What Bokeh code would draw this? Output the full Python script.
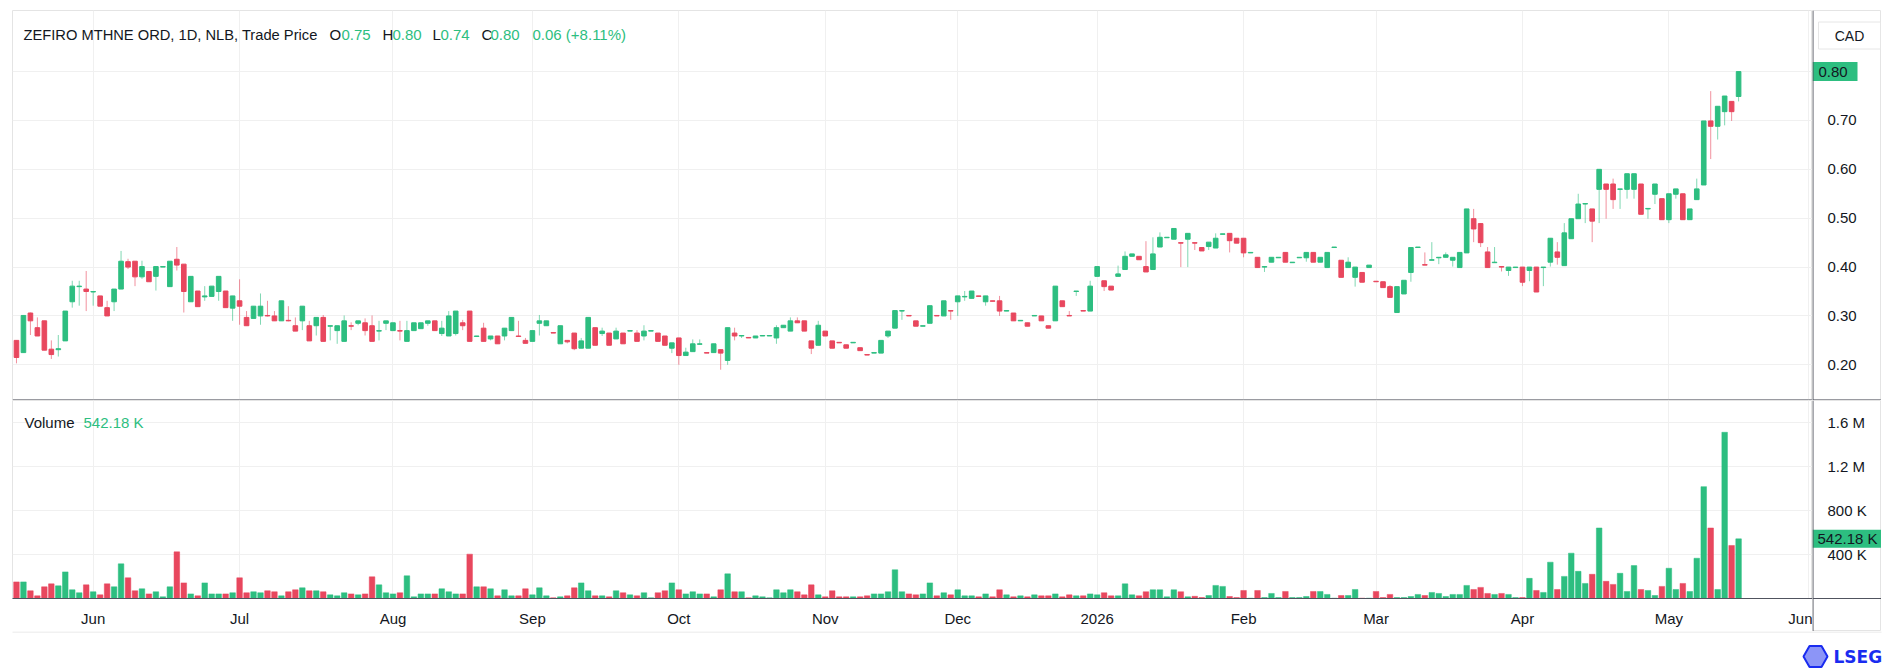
from bokeh.plotting import figure
from bokeh.layouts import column, row
from bokeh.models import ColumnDataSource, FixedTicker, Grid, Label, Range1d, Span
from bokeh.core.properties import value
from bokeh.embed import file_html
from bokeh.resources import INLINE

# ---------------- data ----------------
opens = [0.250, 0.225, 0.306, 0.276, 0.290, 0.232, 0.231, 0.249, 0.329, 0.360,
         0.355, 0.349, 0.341, 0.317, 0.329, 0.355, 0.411, 0.412, 0.380, 0.391,
         0.381, 0.400, 0.360, 0.416, 0.406, 0.329, 0.351, 0.339, 0.340, 0.350,
         0.351, 0.316, 0.331, 0.297, 0.295, 0.300, 0.301, 0.300, 0.290, 0.291,
         0.280, 0.290, 0.280, 0.280, 0.297, 0.279, 0.270, 0.248, 0.280, 0.285,
         0.286, 0.280, 0.269, 0.285, 0.270, 0.270, 0.248, 0.270, 0.274, 0.285,
         0.290, 0.264, 0.259, 0.264, 0.286, 0.310, 0.258, 0.275, 0.253, 0.259,
         0.259, 0.270, 0.259, 0.250, 0.248, 0.285, 0.280, 0.266, 0.243, 0.250,
         0.265, 0.234, 0.234, 0.276, 0.264, 0.265, 0.253, 0.265, 0.269, 0.265,
         0.259, 0.269, 0.265, 0.259, 0.234, 0.255, 0.219, 0.227, 0.242, 0.225,
         0.225, 0.231, 0.209, 0.265, 0.259, 0.256, 0.255, 0.259, 0.259, 0.255,
         0.276, 0.269, 0.290, 0.290, 0.249, 0.240, 0.269, 0.249, 0.246, 0.241,
         0.245, 0.235, 0.221, 0.224, 0.224, 0.259, 0.275, 0.310, 0.301, 0.290,
         0.279, 0.285, 0.301, 0.300, 0.311, 0.329, 0.339, 0.336, 0.341, 0.329,
         0.331, 0.331, 0.310, 0.306, 0.290, 0.286, 0.300, 0.300, 0.280, 0.290,
         0.331, 0.301, 0.350, 0.311, 0.310, 0.381, 0.372, 0.361, 0.381, 0.395,
         0.422, 0.422, 0.401, 0.395, 0.441, 0.460, 0.457, 0.450, 0.457, 0.450,
         0.440, 0.442, 0.439, 0.467, 0.469, 0.459, 0.459, 0.429, 0.420, 0.400,
         0.410, 0.419, 0.430, 0.409, 0.419, 0.419, 0.430, 0.410, 0.399, 0.440,
         0.414, 0.399, 0.379, 0.389, 0.399, 0.371, 0.370, 0.360, 0.307, 0.345,
         0.389, 0.440, 0.405, 0.414, 0.419, 0.420, 0.414, 0.399, 0.429, 0.499,
         0.489, 0.431, 0.409, 0.401, 0.393, 0.399, 0.400, 0.393, 0.400, 0.399,
         0.410, 0.431, 0.403, 0.458, 0.499, 0.529, 0.519, 0.559, 0.570, 0.570,
         0.559, 0.559, 0.559, 0.570, 0.519, 0.549, 0.540, 0.497, 0.549, 0.550,
         0.497, 0.538, 0.568, 0.699, 0.688, 0.718, 0.739, 0.749]

highs = [0.250, 0.301, 0.307, 0.297, 0.290, 0.250, 0.261, 0.310, 0.372, 0.372,
         0.392, 0.351, 0.341, 0.331, 0.355, 0.433, 0.417, 0.412, 0.413, 0.391,
         0.401, 0.401, 0.412, 0.441, 0.406, 0.381, 0.351, 0.361, 0.361, 0.381,
         0.351, 0.341, 0.375, 0.310, 0.320, 0.346, 0.331, 0.310, 0.331, 0.320,
         0.297, 0.320, 0.290, 0.297, 0.302, 0.280, 0.280, 0.301, 0.287, 0.290,
         0.295, 0.301, 0.290, 0.290, 0.286, 0.290, 0.290, 0.286, 0.286, 0.290,
         0.290, 0.290, 0.310, 0.310, 0.292, 0.310, 0.259, 0.286, 0.259, 0.259,
         0.275, 0.297, 0.290, 0.255, 0.270, 0.302, 0.290, 0.266, 0.280, 0.250,
         0.265, 0.255, 0.297, 0.276, 0.276, 0.265, 0.276, 0.265, 0.270, 0.271,
         0.281, 0.270, 0.265, 0.259, 0.245, 0.255, 0.235, 0.252, 0.252, 0.225,
         0.243, 0.231, 0.276, 0.276, 0.260, 0.256, 0.259, 0.260, 0.260, 0.281,
         0.281, 0.297, 0.297, 0.290, 0.249, 0.290, 0.269, 0.249, 0.246, 0.241,
         0.246, 0.235, 0.221, 0.225, 0.250, 0.269, 0.311, 0.311, 0.301, 0.290,
         0.280, 0.321, 0.301, 0.331, 0.311, 0.341, 0.351, 0.351, 0.341, 0.341,
         0.331, 0.341, 0.311, 0.306, 0.291, 0.286, 0.301, 0.300, 0.280, 0.361,
         0.331, 0.310, 0.351, 0.311, 0.372, 0.401, 0.372, 0.361, 0.403, 0.432,
         0.427, 0.422, 0.453, 0.461, 0.471, 0.461, 0.479, 0.450, 0.469, 0.450,
         0.440, 0.451, 0.469, 0.468, 0.469, 0.459, 0.459, 0.430, 0.420, 0.401,
         0.420, 0.420, 0.430, 0.410, 0.420, 0.430, 0.430, 0.420, 0.430, 0.441,
         0.414, 0.420, 0.400, 0.389, 0.404, 0.371, 0.370, 0.363, 0.360, 0.373,
         0.440, 0.441, 0.430, 0.451, 0.420, 0.430, 0.420, 0.430, 0.519, 0.519,
         0.489, 0.441, 0.441, 0.401, 0.400, 0.400, 0.400, 0.400, 0.400, 0.400,
         0.459, 0.451, 0.490, 0.499, 0.550, 0.530, 0.519, 0.600, 0.570, 0.581,
         0.560, 0.591, 0.591, 0.570, 0.520, 0.570, 0.540, 0.550, 0.560, 0.550,
         0.519, 0.581, 0.699, 0.760, 0.729, 0.750, 0.739, 0.800]

lows = [0.203, 0.225, 0.261, 0.259, 0.230, 0.212, 0.217, 0.249, 0.317, 0.321,
        0.310, 0.321, 0.320, 0.300, 0.310, 0.355, 0.396, 0.361, 0.376, 0.370,
        0.352, 0.400, 0.360, 0.393, 0.307, 0.329, 0.319, 0.331, 0.340, 0.331,
        0.317, 0.290, 0.282, 0.280, 0.295, 0.282, 0.299, 0.290, 0.290, 0.289,
        0.269, 0.271, 0.249, 0.260, 0.248, 0.250, 0.243, 0.248, 0.271, 0.281,
        0.260, 0.248, 0.250, 0.271, 0.270, 0.250, 0.248, 0.270, 0.274, 0.280,
        0.270, 0.259, 0.259, 0.260, 0.271, 0.248, 0.258, 0.248, 0.250, 0.243,
        0.250, 0.270, 0.258, 0.244, 0.248, 0.260, 0.280, 0.265, 0.243, 0.244,
        0.230, 0.234, 0.234, 0.240, 0.259, 0.240, 0.253, 0.243, 0.269, 0.248,
        0.250, 0.269, 0.248, 0.240, 0.224, 0.200, 0.219, 0.227, 0.242, 0.224,
        0.225, 0.190, 0.200, 0.250, 0.255, 0.255, 0.255, 0.259, 0.259, 0.243,
        0.276, 0.269, 0.286, 0.269, 0.222, 0.240, 0.259, 0.234, 0.245, 0.234,
        0.245, 0.229, 0.220, 0.224, 0.224, 0.255, 0.275, 0.292, 0.300, 0.279,
        0.279, 0.285, 0.300, 0.300, 0.292, 0.300, 0.331, 0.336, 0.340, 0.321,
        0.330, 0.300, 0.310, 0.290, 0.290, 0.279, 0.300, 0.290, 0.275, 0.290,
        0.319, 0.300, 0.341, 0.310, 0.310, 0.381, 0.351, 0.353, 0.381, 0.395,
        0.422, 0.415, 0.390, 0.395, 0.441, 0.460, 0.457, 0.400, 0.400, 0.435,
        0.433, 0.435, 0.439, 0.467, 0.430, 0.449, 0.420, 0.429, 0.399, 0.390,
        0.410, 0.419, 0.410, 0.409, 0.419, 0.411, 0.410, 0.410, 0.399, 0.440,
        0.379, 0.399, 0.360, 0.369, 0.399, 0.370, 0.358, 0.338, 0.307, 0.345,
        0.370, 0.440, 0.404, 0.414, 0.406, 0.420, 0.401, 0.399, 0.429, 0.451,
        0.441, 0.399, 0.409, 0.391, 0.382, 0.399, 0.361, 0.371, 0.349, 0.361,
        0.401, 0.405, 0.403, 0.458, 0.499, 0.490, 0.451, 0.490, 0.499, 0.519,
        0.519, 0.540, 0.540, 0.508, 0.499, 0.529, 0.497, 0.490, 0.540, 0.497,
        0.497, 0.538, 0.568, 0.621, 0.661, 0.690, 0.699, 0.739]

closes = [0.215, 0.301, 0.290, 0.259, 0.230, 0.221, 0.233, 0.310, 0.361, 0.361,
          0.350, 0.350, 0.320, 0.300, 0.355, 0.412, 0.400, 0.380, 0.401, 0.370,
          0.401, 0.401, 0.412, 0.404, 0.350, 0.381, 0.319, 0.341, 0.361, 0.381,
          0.317, 0.341, 0.320, 0.280, 0.320, 0.320, 0.300, 0.290, 0.331, 0.290,
          0.269, 0.320, 0.249, 0.297, 0.248, 0.280, 0.280, 0.290, 0.279, 0.290,
          0.270, 0.248, 0.270, 0.290, 0.286, 0.269, 0.270, 0.286, 0.286, 0.290,
          0.270, 0.275, 0.300, 0.310, 0.280, 0.248, 0.259, 0.248, 0.259, 0.243,
          0.275, 0.297, 0.258, 0.244, 0.270, 0.290, 0.290, 0.265, 0.280, 0.247,
          0.233, 0.249, 0.297, 0.240, 0.269, 0.240, 0.269, 0.243, 0.270, 0.248,
          0.269, 0.270, 0.248, 0.240, 0.245, 0.219, 0.226, 0.243, 0.243, 0.224,
          0.243, 0.224, 0.276, 0.259, 0.260, 0.255, 0.259, 0.260, 0.260, 0.276,
          0.281, 0.290, 0.286, 0.269, 0.234, 0.281, 0.259, 0.234, 0.245, 0.234,
          0.246, 0.229, 0.220, 0.225, 0.250, 0.269, 0.311, 0.311, 0.300, 0.279,
          0.280, 0.321, 0.300, 0.331, 0.310, 0.341, 0.340, 0.351, 0.340, 0.341,
          0.330, 0.310, 0.311, 0.290, 0.291, 0.279, 0.301, 0.290, 0.275, 0.361,
          0.319, 0.300, 0.351, 0.310, 0.361, 0.401, 0.360, 0.353, 0.386, 0.422,
          0.427, 0.415, 0.390, 0.427, 0.461, 0.461, 0.479, 0.449, 0.469, 0.449,
          0.433, 0.451, 0.459, 0.468, 0.454, 0.449, 0.429, 0.430, 0.399, 0.401,
          0.420, 0.420, 0.410, 0.410, 0.420, 0.430, 0.410, 0.420, 0.430, 0.441,
          0.379, 0.410, 0.400, 0.369, 0.404, 0.370, 0.358, 0.338, 0.360, 0.373,
          0.440, 0.441, 0.404, 0.415, 0.420, 0.425, 0.420, 0.430, 0.519, 0.478,
          0.450, 0.399, 0.410, 0.400, 0.400, 0.400, 0.369, 0.400, 0.349, 0.400,
          0.459, 0.420, 0.470, 0.499, 0.529, 0.530, 0.494, 0.600, 0.559, 0.538,
          0.560, 0.591, 0.591, 0.508, 0.520, 0.570, 0.497, 0.550, 0.560, 0.497,
          0.519, 0.560, 0.699, 0.688, 0.729, 0.750, 0.718, 0.800]

volumes_k = [151, 151, 70, 24, 106, 133, 115, 242, 79, 52,
             124, 61, 33, 133, 106, 315, 188, 70, 88, 42,
             61, 15, 106, 424, 142, 42, 24, 142, 42, 42,
             42, 52, 188, 52, 61, 52, 70, 61, 24, 61,
             79, 97, 70, 70, 61, 33, 24, 52, 42, 33,
             42, 197, 124, 52, 42, 52, 206, 15, 42, 42,
             42, 88, 61, 42, 42, 403, 106, 106, 88, 24,
             79, 24, 24, 88, 33, 97, 24, 6, 15, 24,
             97, 142, 70, 24, 24, 15, 70, 52, 33, 24,
             52, 6, 52, 70, 142, 79, 42, 61, 42, 42,
             15, 79, 224, 61, 61, 6, 24, 15, 6, 79,
             52, 79, 61, 33, 124, 33, 15, 70, 15, 15,
             15, 15, 24, 42, 42, 61, 261, 61, 42, 33,
             42, 142, 24, 52, 33, 79, 24, 24, 15, 42,
             15, 79, 33, 15, 24, 15, 33, 24, 24, 42,
             15, 33, 24, 24, 42, 33, 52, 24, 24, 133,
             33, 24, 61, 79, 79, 15, 79, 61, 15, 20,
             9, 27, 119, 110, 18, 9, 73, 3, 73, 9,
             46, 9, 64, 9, 9, 18, 64, 64, 37, 3,
             27, 27, 82, 3, 3, 64, 9, 37, 9, 9,
             18, 37, 27, 55, 46, 18, 37, 37, 119, 82,
             101, 46, 37, 46, 37, 9, 9, 183, 73, 55,
             330, 82, 201, 412, 247, 137, 220, 641, 156, 128,
             229, 64, 299, 82, 73, 27, 110, 275, 82, 137,
             64, 366, 1017, 641, 82, 1511, 482, 542.18]

month_bars = [12, 33, 55, 75, 96, 117, 136, 156, 177, 196, 217, 238, 258]
month_labels = ["Jun", "Jul", "Aug", "Sep", "Oct", "Nov", "Dec", "2026",
                "Feb", "Mar", "Apr", "May", "Jun"]
price_ticks = [0.2, 0.3, 0.4, 0.5, 0.6, 0.7, 0.8]
price_tick_labels = ["0.20", "0.30", "0.40", "0.50", "0.60", "0.70", "0.80"]
volume_ticks = [400000, 800000, 1200000, 1600000]
volume_tick_labels = ["400 K", "800 K", "1.2 M", "1.6 M"]

title_text = "ZEFIRO MTHNE ORD, 1D, NLB, Trade Price"
ohlc_names = ["O", "H", "L", "C"]
ohlc_values = ["0.75", "0.80", "0.74", "0.80"]
change_text = "0.06 (+8.11%)"
currency = "CAD"
last_volume_text = "542.18 K"

# ---------------- styles ----------------
GREEN = "#2dbe80"
RED = "#e8475e"
TEXT = "#131722"
GRID = "#f0f0f0"
AXIS = "#50535e"
FRAME = "#e4e4e4"
FONT = "Liberation Sans"
FS = "15px"

n = len(closes)
xs = list(range(1, n + 1))
colors = [GREEN if c >= o else RED for o, c in zip(opens, closes)]
src = ColumnDataSource(dict(
    x=xs, open=opens, high=highs, low=lows, close=closes,
    top=[max(o, c) for o, c in zip(opens, closes)],
    bottom=[min(o, c) for o, c in zip(opens, closes)],
    color=colors, volume=[vk * 1000 for vk in volumes_k]))

X0, X1 = 0.43, 258.6
Y0, Y1 = 0.127, 0.925
FRAME_W = 1800
PRICE_H = 390
VOL_H = 198
AXIS_BOTTOM = 33
RIGHT_W = 69
VMAX = 1.8e6


def xpx(px):
    return X0 + (px - 12) * (X1 - X0) / FRAME_W


def ypx(py):
    return Y1 - (py - 10) * (Y1 - Y0) / PRICE_H


def vpx(py):
    return (598 - py) * VMAX / VOL_H


def hide_default_grids(fig):
    for g in list(fig.xgrid) + list(fig.ygrid):
        g.visible = False


# ---------------- price pane ----------------
p = figure(width=12 + FRAME_W, height=10 + PRICE_H, x_range=Range1d(X0, X1),
           y_range=Range1d(Y0, Y1), output_backend="svg", toolbar_location=None,
           x_axis_location=None, y_axis_location=None, min_border_left=12,
           min_border_right=0, min_border_top=10, min_border_bottom=0)
p.outline_line_color = FRAME
hide_default_grids(p)
p.add_layout(Grid(dimension=0, ticker=FixedTicker(ticks=month_bars), grid_line_color=GRID))
p.add_layout(Grid(dimension=1, ticker=FixedTicker(ticks=price_ticks), grid_line_color=GRID))

p.segment(x0="x", y0="low", x1="x", y1="high", line_color="color", line_alpha=0.6,
          line_width=1, source=src)
p.vbar(x="x", width=0.66, top="top", bottom="bottom", fill_color="color",
       line_color="color", line_width=1, source=src)
p.add_layout(Span(location=Y0 + 0.5 * (Y1 - Y0) / PRICE_H, dimension="width",
                  line_color=AXIS, line_width=1))

hy = ypx(34)
p.add_layout(Label(x=xpx(23), y=hy, text=title_text, text_font=FONT,
                   text_font_size="14.7px", text_color=TEXT, text_baseline="middle"))
name_px = [329, 382, 432, 481]
val_px = [341, 392, 440, 490]
for nm, vl, npx, vx in zip(ohlc_names, ohlc_values, name_px, val_px):
    p.add_layout(Label(x=xpx(npx), y=hy, text=nm, text_font=FONT, text_font_size=FS,
                       text_color=TEXT, text_baseline="middle"))
    p.add_layout(Label(x=xpx(vx), y=hy, text=vl, text_font=FONT, text_font_size=FS,
                       text_color=GREEN, text_baseline="middle"))
p.add_layout(Label(x=xpx(532), y=hy, text=change_text, text_font=FONT,
                   text_font_size=FS, text_color=GREEN, text_baseline="middle"))

# ---------------- price scale (right) ----------------
pa = figure(width=RIGHT_W, height=10 + PRICE_H, x_range=Range1d(0, RIGHT_W),
            y_range=p.y_range, output_backend="svg", toolbar_location=None,
            x_axis_location=None, y_axis_location=None, min_border_left=0,
            min_border_right=0, min_border_top=10, min_border_bottom=0)
pa.outline_line_color = FRAME
hide_default_grids(pa)
pa.text(x=[15] * len(price_ticks), y=price_ticks, text=price_tick_labels,
        text_font=value(FONT), text_font_size=FS, text_color=TEXT,
        text_baseline="middle", text_align="left")
pa.rect(x=[22.5], y=[closes[-1]], width=45, height=19, height_units="screen",
        fill_color=GREEN, line_color=None)
pa.text(x=[6], y=[closes[-1]], text=[f"{closes[-1]:.2f}"], text_font=value(FONT),
        text_font_size=FS, text_color=TEXT, text_baseline="middle", text_align="left")
pa.rect(x=[37], y=[ypx(35)], width=62, height=27, height_units="screen",
        fill_color="white", line_color="#e6e6e6", line_width=1)
pa.text(x=[37], y=[ypx(35)], text=[currency], text_font=value(FONT),
        text_font_size="14px", text_color=TEXT, text_baseline="middle",
        text_align="center")
pa.add_layout(Span(location=0.5, dimension="height", line_color=AXIS, line_width=1))
pa.add_layout(Span(location=Y0 + 0.5 * (Y1 - Y0) / PRICE_H, dimension="width",
                   line_color=AXIS, line_width=1))

# ---------------- volume pane ----------------
v = figure(width=12 + FRAME_W, height=VOL_H + AXIS_BOTTOM, x_range=p.x_range,
           y_range=Range1d(0, VMAX), output_backend="svg", toolbar_location=None,
           y_axis_location=None, min_border_left=12, min_border_right=0,
           min_border_top=0, min_border_bottom=AXIS_BOTTOM)
v.outline_line_color = FRAME
hide_default_grids(v)
v.add_layout(Grid(dimension=0, ticker=FixedTicker(ticks=month_bars), grid_line_color=GRID))
v.add_layout(Grid(dimension=1, ticker=FixedTicker(ticks=volume_ticks), grid_line_color=GRID))
v.vbar(x="x", width=0.8, top="volume", bottom=0, fill_color="color",
       line_color="color", line_width=0.5, source=src)

xa = v.xaxis[0]
xa.ticker = FixedTicker(ticks=month_bars)
xa.major_label_overrides = {b: lab for b, lab in zip(month_bars, month_labels)}
xa.major_tick_line_color = None
xa.minor_tick_line_color = None
xa.axis_line_color = AXIS
xa.major_label_text_font = FONT
xa.major_label_text_font_size = FS
xa.major_label_text_color = TEXT
xa.major_label_standoff = 5

v.add_layout(Label(x=xpx(24), y=vpx(422), text="Volume", text_font=FONT,
                   text_font_size=FS, text_color=TEXT, text_baseline="middle"))
v.add_layout(Label(x=xpx(83), y=vpx(422), text=last_volume_text, text_font=FONT,
                   text_font_size=FS, text_color=GREEN, text_baseline="middle"))

# ---------------- volume scale (right) ----------------
va = figure(width=RIGHT_W, height=VOL_H + AXIS_BOTTOM, x_range=Range1d(0, RIGHT_W),
            y_range=Range1d(0, VMAX), output_backend="svg",
            toolbar_location=None, x_axis_location=None, y_axis_location=None,
            min_border_left=0, min_border_right=0, min_border_top=0,
            min_border_bottom=0)
try:
    va.frame_align = False
    va.y_range = Range1d(-AXIS_BOTTOM * VMAX / VOL_H, VMAX)
except Exception:
    va.y_range = v.y_range
va.outline_line_color = FRAME
hide_default_grids(va)
va.text(x=[15] * len(volume_ticks), y=volume_ticks, text=volume_tick_labels,
        text_font=value(FONT), text_font_size=FS, text_color=TEXT,
        text_baseline="middle", text_align="left")
va.rect(x=[36], y=[volumes_k[-1] * 1000], width=72, height=18, height_units="screen",
        fill_color=GREEN, line_color=None)
va.text(x=[5], y=[volumes_k[-1] * 1000], text=[last_volume_text], text_font=value(FONT),
        text_font_size=FS, text_color=TEXT, text_baseline="middle", text_align="left")
va.add_layout(Span(location=0.5, dimension="height", line_color=AXIS, line_width=1))
va.add_layout(Span(location=0, dimension="width", line_color=AXIS, line_width=1))

# ---------------- footer logo ----------------
f = figure(width=1895, height=40, x_range=Range1d(0, 1895),
           y_range=Range1d(0, 40), output_backend="svg", toolbar_location=None,
           x_axis_location=None, y_axis_location=None, min_border=0)
f.outline_line_color = None
hide_default_grids(f)
f.segment(x0=[12], y0=[39.5], x1=[1881], y1=[39.5], line_color=FRAME, line_width=1)
f.scatter(x=[1815], y=[15], marker="hex", size=24, fill_color="#1a2cf0",
          fill_alpha=0.5, line_color="#1a2cf0", line_width=2)
f.text(x=[1833], y=[15], text=["LSEG"], text_font=value("DejaVu Sans"),
       text_font_size="17px", text_font_style="bold", text_color="#1a2cf0",
       text_baseline="middle")

layout = column(row(p, pa, spacing=0), row(v, va, spacing=0), f, spacing=0)
open("out.html", "w").write(file_html(layout, INLINE))
